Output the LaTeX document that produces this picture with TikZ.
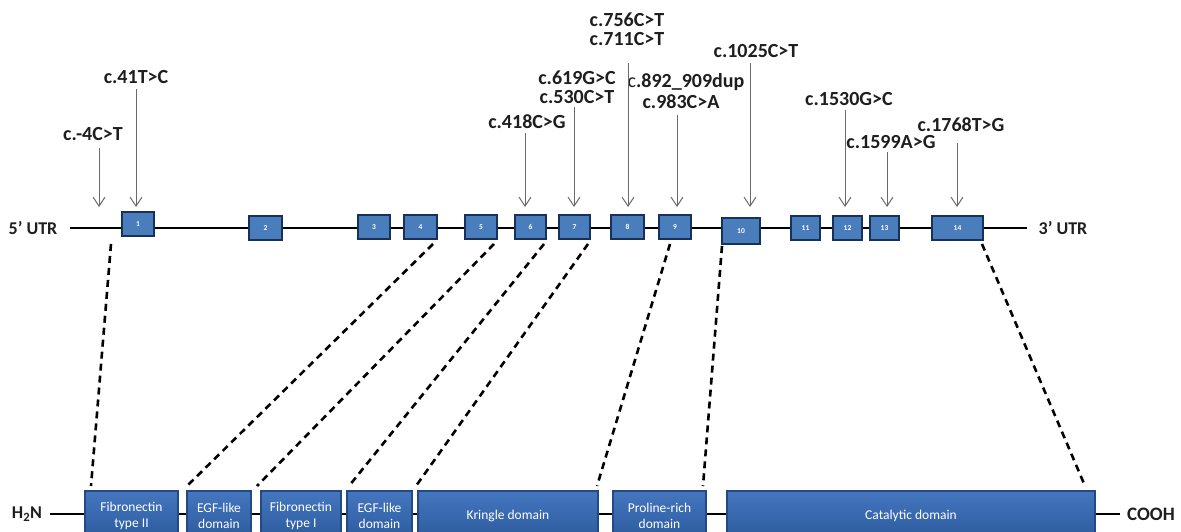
\documentclass[tikz,border=0pt]{standalone}
\usepackage{fontspec}
\setmainfont{Carlito}
\usetikzlibrary{arrows.meta}
\definecolor{exonfill}{HTML}{4A7DBC}
\definecolor{exonborder}{HTML}{17325A}
\definecolor{domtop}{HTML}{4476BF}
\definecolor{dombot}{HTML}{2C5A9C}
\definecolor{domborder}{HTML}{234A85}
\definecolor{arrowgray}{HTML}{6A6A6A}
\definecolor{labtext}{HTML}{1E1E1E}
\tikzset{
  exon/.style={draw=exonborder, line width=2.5pt, fill=exonfill, minimum height=24pt, inner sep=0pt,
    font=\fontsize{7.5}{8}\selectfont\bfseries, text=white},
  protdom/.style={draw=domborder, line width=1.4pt, top color=domtop, bottom color=dombot, minimum height=49pt,
    inner sep=0pt, align=center, font=\fontsize{13.5}{16}\selectfont, text=white},
  mutlab/.style={font=\fontsize{20}{22}\selectfont\bfseries, text=labtext, anchor=base, inner sep=0pt},
  endlab/.style={font=\fontsize{18}{20}\selectfont\bfseries, text=labtext, inner sep=0pt},
  mutarrow/.style={draw=arrowgray, line width=1pt, -{Straight Barb[length=9pt,width=12pt,line width=1pt]}},
  mapline/.style={draw=black, line width=2.6pt, dash pattern=on 7pt off 5pt},
  backbone/.style={draw=black, line width=2.8pt}
}
\begin{document}
\begin{tikzpicture}[x=1pt,y=-1pt]
\useasboundingbox (0,0) rectangle (1181,532);
\clip (0,0) rectangle (1181,532);

% gene backbone
\coordinate (g0) at (70,228);
\coordinate (g1) at (1027,228);
\draw[backbone] (g0) -- (g1);
\node[endlab] (utr5) at (33,228) {5’ UTR};
\node[endlab] (utr3) at (1063,228) {3’ UTR};

% exons
\node[exon, minimum width=32pt] (e1) at (138,224) {1};
\node[exon, minimum width=33pt] (e2) at (265.5,228) {2};
\node[exon, minimum width=32pt] (e3) at (374,227) {3};
\node[exon, minimum width=33pt] (e4) at (420.5,227) {4};
\node[exon, minimum width=32pt] (e5) at (481,227) {5};
\node[exon, minimum width=31pt] (e6) at (530.5,227) {6};
\node[exon, minimum width=31pt] (e7) at (574.5,227) {7};
\node[exon, minimum width=33pt] (e8) at (627.5,227) {8};
\node[exon, minimum width=32pt] (e9) at (675,227) {9};
\node[exon, minimum width=38pt, minimum height=26pt] (e10) at (741,231) {10};
\node[exon, minimum width=29pt] (e11) at (805.5,228) {11};
\node[exon, minimum width=29pt] (e12) at (847.5,228) {12};
\node[exon, minimum width=29pt] (e13) at (884.5,228) {13};
\node[exon, minimum width=51pt] (e14) at (957.5,228) {14};

% mutation labels
\node[mutlab] (m1) at (93,140.5) {c.-4C>T};
\node[mutlab] (m2) at (136,83.5) {c.41T>C};
\node[mutlab] (m3) at (527,128.5) {c.418C>G};
\node[mutlab] (m4) at (577,85) {c.619G>C};
\node[mutlab] (m5) at (577,103.5) {c.530C>T};
\node[mutlab] (m6) at (627,26.5) {c.756C>T};
\node[mutlab] (m7) at (627,45.5) {c.711C>T};
\node[mutlab] (m8) at (686,87.5) {{\mdseries c}.892\_909dup};
\node[mutlab] (m9) at (681,108.5) {c.983C>A};
\node[mutlab] (m10) at (756,57.5) {c.1025C>T};
\node[mutlab] (m11) at (849,105.5) {c.1530G>C};
\node[mutlab] (m12) at (891,148.5) {c.1599A>G};
\node[mutlab] (m13) at (961,131.5) {c.1768T>G};

% arrows
\coordinate (a1) at (99,148);  \coordinate (b1) at (99,207);
\coordinate (a2) at (136,89);  \coordinate (b2) at (136,207);
\coordinate (a3) at (525,133); \coordinate (b3) at (525,207);
\coordinate (a4) at (574,107); \coordinate (b4) at (574,207);
\coordinate (a5) at (628,63);  \coordinate (b5) at (628,207);
\coordinate (a6) at (677,115); \coordinate (b6) at (677,207);
\coordinate (a7) at (750,63);  \coordinate (b7) at (750,207);
\coordinate (a8) at (845,110); \coordinate (b8) at (845,207);
\coordinate (a9) at (887,152); \coordinate (b9) at (887,207);
\coordinate (a10) at (957,143); \coordinate (b10) at (957,207);
\foreach \i in {1,...,10} {\draw[mutarrow] (a\i) -- (b\i);}

% protein backbone
\coordinate (p0) at (50,514);
\coordinate (p1) at (1120,514);
\draw[backbone] (p0) -- (p1);
\node[endlab] (h2n) at (27,514) {H\textsubscript{2}N};
\node[endlab, font=\fontsize{19}{20}\selectfont\bfseries] (cooh) at (1151,514) {COOH};

% domains
\node[protdom, minimum width=93pt] (d1) at (131.5,515.5) {Fibronectin\\type II};
\node[protdom, minimum width=64pt] (d2) at (219,515.5) {EGF-like\\domain};
\node[protdom, minimum width=80pt] (d3) at (301,515.5) {Fibronectin\\type I};
\node[protdom, minimum width=65pt] (d4) at (379.5,515.5) {EGF-like\\domain};
\node[protdom, minimum width=180pt] (d5) at (508,515.5) {Kringle domain};
\node[protdom, minimum width=93pt] (d6) at (659.5,515.5) {Proline-rich\\domain};
\node[protdom, minimum width=368pt] (d7) at (911,515.5) {Catalytic domain};

% mapping lines
\coordinate (u1) at (111,244);  \coordinate (l1) at (91,486);
\coordinate (u2) at (433,244);  \coordinate (l2) at (187,486);
\coordinate (u3) at (494,244);  \coordinate (l3) at (257,486);
\coordinate (u4) at (544,244);  \coordinate (l4) at (349,486);
\coordinate (u5) at (588,244);  \coordinate (l5) at (416,486);
\coordinate (u6) at (670,244);  \coordinate (l6) at (597,486);
\coordinate (u7) at (722,246);  \coordinate (l7) at (703,486);
\coordinate (u8) at (982,244);  \coordinate (l8) at (1085,486);
\foreach \i in {1,...,8} {\draw[mapline] (u\i) -- (l\i);}
\end{tikzpicture}
\end{document}
